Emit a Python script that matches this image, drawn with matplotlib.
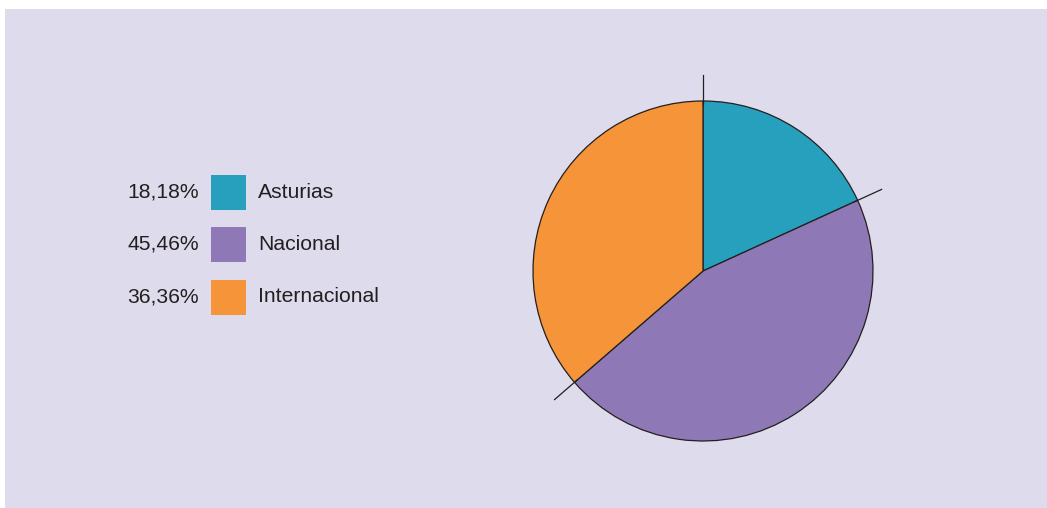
import matplotlib.pyplot as plt
from matplotlib.patches import Rectangle
import numpy as np

# Origin of the entries
categories = ['Asturias', 'Nacional', 'Internacional']
shares = [18.18, 45.46, 36.36]
share_labels = ['18,18%', '45,46%', '36,36%']
colors = ['#27a0bd', '#8e79b6', '#f59438']

BG = '#dedbec'
INK = '#231f20'
W, H = 1047, 508

plt.rcParams['font.family'] = ['Liberation Sans', 'DejaVu Sans']

fig = plt.figure(figsize=(W / 100, H / 100), dpi=100)
fig.patch.set_facecolor('white')

# lavender panel + legend, laid out in pixel units
base = fig.add_axes([0, 0, 1, 1])
base.set_xlim(0, W)
base.set_ylim(H, 0)
base.axis('off')
base.add_patch(Rectangle((5, 9), W - 5, H - 9, facecolor=BG, edgecolor='none'))

row_y = [192, 244, 297]
for y, name, lab, col in zip(row_y, categories, share_labels, colors):
    base.add_patch(Rectangle((211, y - 17.5), 35, 35, facecolor=col, edgecolor='none'))
    base.text(199, y, lab, ha='right', va='center', fontsize=15.2, color=INK)
    base.text(258, y, name, ha='left', va='center', fontsize=15.2, color=INK)

# pie: centre (703, 271) px, radius 170 px
cx, cy, r, half = 703, 271, 170, 200
pie_ax = fig.add_axes([(cx - half) / W, (H - cy - half) / H, 2 * half / W, 2 * half / H])
pie_ax.set_facecolor('none')
pie_ax.axis('off')
wedges, _ = pie_ax.pie(shares, colors=colors, startangle=90, counterclock=False,
                       radius=1.0, wedgeprops=dict(edgecolor=INK, linewidth=0.9))
pie_ax.set_xlim(-half / r, half / r)
pie_ax.set_ylim(-half / r, half / r)
pie_ax.set_aspect('equal')

# boundary ticks poking out past the rim
bounds = 90 - np.cumsum([0] + shares[:-1]) / 100 * 360
for a in np.deg2rad(bounds):
    pie_ax.plot([0.98 * np.cos(a), 1.155 * np.cos(a)],
                [0.98 * np.sin(a), 1.155 * np.sin(a)], color=INK, linewidth=0.9)

fig.savefig('out.png', dpi=100, facecolor=fig.get_facecolor())
